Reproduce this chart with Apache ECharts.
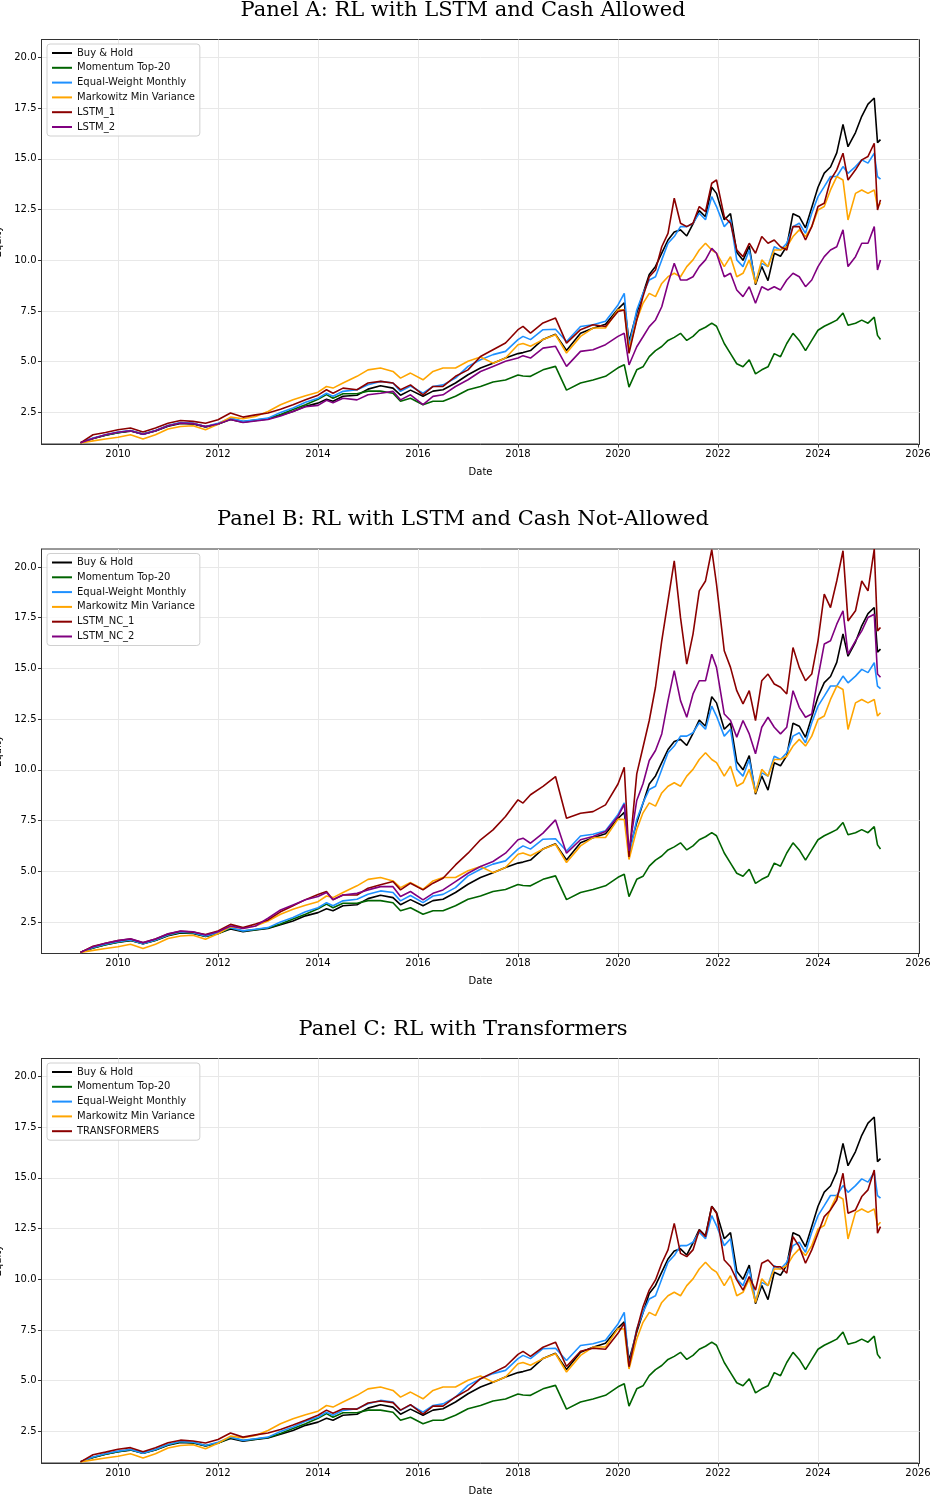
<!DOCTYPE html>
<html><head><meta charset="utf-8">
<script src="https://cdn.jsdelivr.net/npm/echarts@6/dist/echarts.min.js"></script>
<style>html,body{margin:0;padding:0;background:#fff}#c{width:938px;height:1502px}</style>
</head><body><div id="c"></div>
<script>
const dates = [2009.25,2009.5,2009.75,2010.0,2010.25,2010.5,2010.75,2011.0,2011.25,2011.5,
 2011.75,2012.0,2012.25,2012.5,2012.75,2013.0,2013.25,2013.5,2013.75,2014.0,
 2014.17,2014.3,2014.5,2014.78,2015.0,2015.25,2015.5,2015.65,2015.85,2016.1,
 2016.3,2016.5,2016.75,2017.0,2017.25,2017.5,2017.75,2018.0,2018.1,2018.25,
 2018.5,2018.75,2018.97,2019.25,2019.5,2019.75,2020.0,2020.125,2020.22,2020.375,
 2020.5,2020.625,2020.75,2020.875,2021.0,2021.125,2021.25,2021.375,2021.5,2021.625,
 2021.75,2021.875,2021.97,2022.125,2022.25,2022.375,2022.5,2022.625,2022.75,2022.875,
 2023.0,2023.125,2023.25,2023.375,2023.5,2023.625,2023.75,2023.875,2024.0,2024.125,
 2024.25,2024.375,2024.5,2024.6,2024.75,2024.875,2025.0,2025.125,2025.19,2025.25];

const buyHold = [1.0,1.22,1.38,1.5,1.58,1.42,1.58,1.82,1.96,1.93,
 1.78,1.93,2.15,2.02,2.1,2.18,2.36,2.55,2.8,2.96,
 3.15,3.05,3.3,3.35,3.65,3.82,3.7,3.35,3.6,3.3,
 3.55,3.62,3.95,4.36,4.69,4.93,5.18,5.4,5.45,5.55,
 6.1,6.35,5.55,6.4,6.65,6.85,7.6,7.9,6.0,7.4,
 8.35,9.3,9.7,10.35,11.0,11.4,11.5,11.2,11.8,12.45,
 12.15,13.6,13.3,12.0,12.3,10.4,10.0,10.7,8.8,9.7,
 9.0,10.35,10.2,10.7,12.3,12.15,11.6,12.6,13.6,14.3,
 14.6,15.3,16.7,15.6,16.3,17.1,17.7,18.0,15.8,15.95];

const momentum = [1.0,1.22,1.38,1.5,1.6,1.43,1.6,1.84,1.98,1.95,
 1.8,1.92,2.2,2.05,2.12,2.2,2.4,2.65,2.88,3.15,
 3.38,3.2,3.42,3.42,3.55,3.55,3.45,3.05,3.2,2.88,
 3.05,3.05,3.3,3.62,3.78,4.0,4.1,4.35,4.3,4.28,
 4.6,4.77,3.6,3.95,4.1,4.28,4.7,4.85,3.75,4.6,
 4.75,5.25,5.55,5.75,6.05,6.2,6.4,6.05,6.25,6.55,
 6.7,6.9,6.75,5.9,5.4,4.9,4.75,5.1,4.4,4.6,
 4.75,5.4,5.25,5.9,6.4,6.05,5.55,6.05,6.55,6.75,
 6.9,7.05,7.4,6.8,6.9,7.05,6.9,7.2,6.3,6.1];

const equalWeight = [1.0,1.24,1.4,1.53,1.61,1.43,1.61,1.86,2.0,1.97,
 1.81,1.97,2.22,2.06,2.14,2.22,2.5,2.72,3.0,3.2,
 3.45,3.3,3.54,3.62,3.86,4.03,3.95,3.54,3.8,3.45,
 3.78,3.86,4.19,4.77,5.1,5.35,5.51,6.09,6.25,6.09,
 6.58,6.6,6.0,6.74,6.82,7.0,7.8,8.37,5.74,7.55,
 8.37,9.03,9.19,10.02,10.84,11.17,11.66,11.66,11.83,12.32,
 12.0,13.14,12.65,11.66,12.0,10.02,9.69,10.51,8.9,9.85,
 9.69,10.67,10.51,10.84,11.66,11.83,11.33,12.32,13.14,13.63,
 14.13,14.13,14.62,14.29,14.62,14.95,14.79,15.28,14.13,14.0];

const markowitz = [1.0,1.1,1.19,1.28,1.4,1.19,1.4,1.68,1.81,1.84,
 1.65,1.92,2.27,2.19,2.3,2.55,2.88,3.12,3.32,3.5,
 3.78,3.7,3.95,4.28,4.6,4.69,4.52,4.19,4.44,4.11,
 4.52,4.69,4.69,5.02,5.23,4.93,5.18,5.84,5.9,5.76,
 6.09,6.33,5.43,6.25,6.66,6.66,7.57,7.55,5.58,7.06,
 7.88,8.37,8.21,8.86,9.19,9.36,9.19,9.69,10.02,10.51,
 10.84,10.51,10.35,9.69,10.18,9.19,9.36,10.02,8.86,10.02,
 9.69,10.51,10.51,10.67,11.17,11.5,11.17,11.66,12.48,12.65,
 13.47,14.13,13.96,11.99,13.3,13.47,13.3,13.47,12.65,12.81];

const lstm1 = [1.0,1.4,1.51,1.65,1.73,1.53,1.73,1.97,2.1,2.06,
 1.97,2.14,2.47,2.27,2.38,2.47,2.66,2.88,3.12,3.35,
 3.62,3.45,3.7,3.62,3.95,4.03,3.95,3.62,3.86,3.37,
 3.78,3.78,4.28,4.6,5.26,5.59,5.92,6.58,6.74,6.41,
 6.91,7.15,5.92,6.58,6.82,6.74,7.48,7.55,5.41,7.06,
 8.21,9.19,9.52,10.67,11.33,13.06,11.83,11.66,11.83,12.65,
 12.4,13.8,13.96,12.15,11.83,10.51,10.18,10.84,10.35,11.17,
 10.84,11.0,10.67,10.51,11.66,11.66,11.0,11.66,12.65,12.81,
 13.96,14.46,15.28,13.96,14.46,14.95,15.12,15.77,12.48,12.98];

const lstm2 = [1.0,1.22,1.4,1.52,1.6,1.42,1.6,1.84,1.98,1.95,
 1.8,1.93,2.15,2.0,2.08,2.15,2.32,2.55,2.78,2.85,
 3.1,2.98,3.2,3.12,3.37,3.45,3.54,3.12,3.37,2.88,
 3.29,3.37,3.78,4.11,4.52,4.77,5.02,5.18,5.3,5.18,
 5.67,5.76,4.77,5.51,5.59,5.84,6.25,6.4,4.84,5.74,
 6.23,6.73,7.06,7.71,8.86,9.85,9.03,9.03,9.19,9.69,
 10.02,10.59,10.35,9.19,9.36,8.54,8.21,8.7,7.88,8.7,
 8.54,8.7,8.54,9.03,9.36,9.19,8.7,9.03,9.69,10.18,
 10.51,10.67,11.5,9.69,10.18,10.84,10.84,11.66,9.52,10.02];

const lstmNc1 = [1.0,1.3,1.45,1.58,1.66,1.47,1.66,1.9,2.04,2.0,
 1.88,2.05,2.38,2.22,2.4,2.6,3.0,3.3,3.6,3.85,
 4.0,3.6,3.83,3.83,4.16,4.33,4.49,4.08,4.41,4.08,
 4.41,4.65,5.31,5.89,6.55,7.04,7.7,8.52,8.36,8.77,
 9.18,9.67,7.61,7.86,7.94,8.27,9.3,10.13,5.7,9.8,
 11.11,12.43,14.07,16.36,18.33,20.3,17.5,15.21,16.69,18.82,
 19.31,20.85,19.15,15.87,15.05,13.9,13.25,13.9,12.43,14.39,
 14.72,14.23,14.07,13.74,16.03,15.05,14.39,14.72,16.36,18.66,
 18.0,19.31,20.8,17.34,17.84,19.31,18.82,20.88,16.85,17.02];

const lstmNc2 = [1.0,1.28,1.45,1.58,1.67,1.48,1.66,1.92,2.05,2.02,
 1.86,2.02,2.3,2.18,2.3,2.68,3.09,3.34,3.59,3.75,
 3.95,3.59,3.83,3.91,4.08,4.24,4.24,3.75,4.0,3.59,
 3.91,4.08,4.49,4.9,5.23,5.48,5.89,6.55,6.63,6.38,
 6.88,7.53,5.89,6.55,6.71,6.96,7.7,8.3,6.0,8.49,
 9.31,10.46,10.95,11.77,13.41,14.89,13.41,12.59,13.74,14.39,
 14.39,15.7,15.05,12.75,12.43,11.61,12.43,11.77,10.79,12.1,
 12.59,12.1,11.77,12.1,13.9,13.08,12.59,12.75,14.56,16.2,
 16.36,17.18,17.84,15.7,16.36,16.85,17.51,17.67,14.72,14.56];

const transformers = [1.0,1.35,1.48,1.62,1.7,1.5,1.7,1.94,2.07,2.03,
 1.93,2.1,2.42,2.22,2.33,2.42,2.6,2.82,3.05,3.3,
 3.55,3.4,3.62,3.6,3.9,4.0,3.92,3.55,3.82,3.35,
 3.75,3.75,4.2,4.55,5.1,5.4,5.7,6.3,6.45,6.2,
 6.65,6.9,5.7,6.45,6.6,6.55,7.34,7.83,5.69,7.5,
 8.65,9.47,9.97,10.79,11.45,12.76,11.28,11.12,11.45,12.43,
 12.1,13.59,13.26,10.95,10.62,9.97,9.47,10.13,9.47,10.79,
 10.95,10.62,10.62,10.3,12.1,11.61,10.79,11.45,12.27,13.09,
 13.42,13.91,15.23,13.26,13.42,14.08,14.41,15.39,12.27,12.6];

const xTicks = [2010,2012,2014,2016,2018,2020,2022,2024,2026];
const yTicks = [2.5,5.0,7.5,10.0,12.5,15.0,17.5,20.0];
const panelTitles = ['Panel A: RL with LSTM and Cash Allowed','Panel B: RL with LSTM and Cash Not-Allowed','Panel C: RL with Transformers'];

const baseSeries = [
  ['Buy & Hold', buyHold, '#000000'],
  ['Momentum Top-20', momentum, '#006400'],
  ['Equal-Weight Monthly', equalWeight, '#1e90ff'],
  ['Markowitz Min Variance', markowitz, '#ffa500']
];
const panelSeries = [
  baseSeries.concat([['LSTM_1', lstm1, '#8b0000'], ['LSTM_2', lstm2, '#800080']]),
  baseSeries.concat([['LSTM_NC_1', lstmNc1, '#8b0000'], ['LSTM_NC_2', lstmNc2, '#800080']]),
  baseSeries.concat([['TRANSFORMERS', transformers, '#8b0000']])
];

const font = 'DejaVu Sans';
const step = 509.5;
const option = {animation:false, backgroundColor:'#fff', title:[], grid:[], xAxis:[], yAxis:[], legend:[], series:[]};
panelSeries.forEach((list, i) => {
  const off = i * step;
  option.title.push({text: panelTitles[i], left: 463, top: off, textAlign: 'center', padding: 0,
    textStyle: {fontFamily: 'DejaVu Serif', fontWeight: 'normal', fontSize: 21, color: '#000'}});
  option.grid.push({left: 41.5, top: 39.5 + off, width: 878, height: 404.5, show: true,
    outerBoundsMode: 'none', containLabel: false,
    borderColor: '#333', borderWidth: 1, backgroundColor: 'transparent'});
  option.xAxis.push({type: 'value', gridIndex: i, min: 2008.47, max: 2026.03,
    name: 'Date', nameLocation: 'middle', nameGap: 23,
    nameTextStyle: {fontFamily: font, fontSize: 10, color: '#000'},
    axisLine: {show: true, lineStyle: {color: '#333'}},
    axisTick: {show: true, customValues: xTicks, length: 3.5, lineStyle: {color: '#333'}},
    axisLabel: {customValues: xTicks, formatter: v => String(v), fontFamily: font, fontSize: 10, color: '#000', margin: 5},
    splitLine: {show: true, lineStyle: {color: '#e8e8e8', width: 1}}});
  option.yAxis.push({type: 'value', gridIndex: i, min: 0.944, max: 20.886,
    name: 'Equity', nameLocation: 'middle', nameGap: 33,
    nameTextStyle: {fontFamily: font, fontSize: 10, color: '#000'},
    axisLine: {show: true, lineStyle: {color: '#333'}},
    axisTick: {show: true, customValues: yTicks, length: 3.5, lineStyle: {color: '#333'}},
    axisLabel: {customValues: yTicks, formatter: v => v.toFixed(1), fontFamily: font, fontSize: 10, color: '#000', margin: 5},
    splitLine: {show: true, lineStyle: {color: '#e8e8e8', width: 1}}});
  option.legend.push({orient: 'vertical', left: 47, top: 44 + off, icon: 'rect', itemWidth: 20, itemHeight: 2,
    itemGap: 2.8, padding: [3, 5, 3, 5], borderColor: '#d0d0d0', borderWidth: 1, borderRadius: 3,
    backgroundColor: 'rgba(255,255,255,0.8)',
    textStyle: {fontFamily: font, fontSize: 10, color: '#111', lineHeight: 12},
    data: list.map(s => s[0])});
  list.forEach(s => {
    option.series.push({type: 'line', name: s[0], xAxisIndex: i, yAxisIndex: i, showSymbol: false,
      symbol: 'none', color: s[2], lineStyle: {color: s[2], width: 1.6}, silent: true,
      data: dates.map((d, k) => [d, s[1][k]])});
  });
});
const chart = echarts.init(document.getElementById('c'), null, {renderer: 'canvas'});
chart.setOption(option);
</script>
</body></html>
